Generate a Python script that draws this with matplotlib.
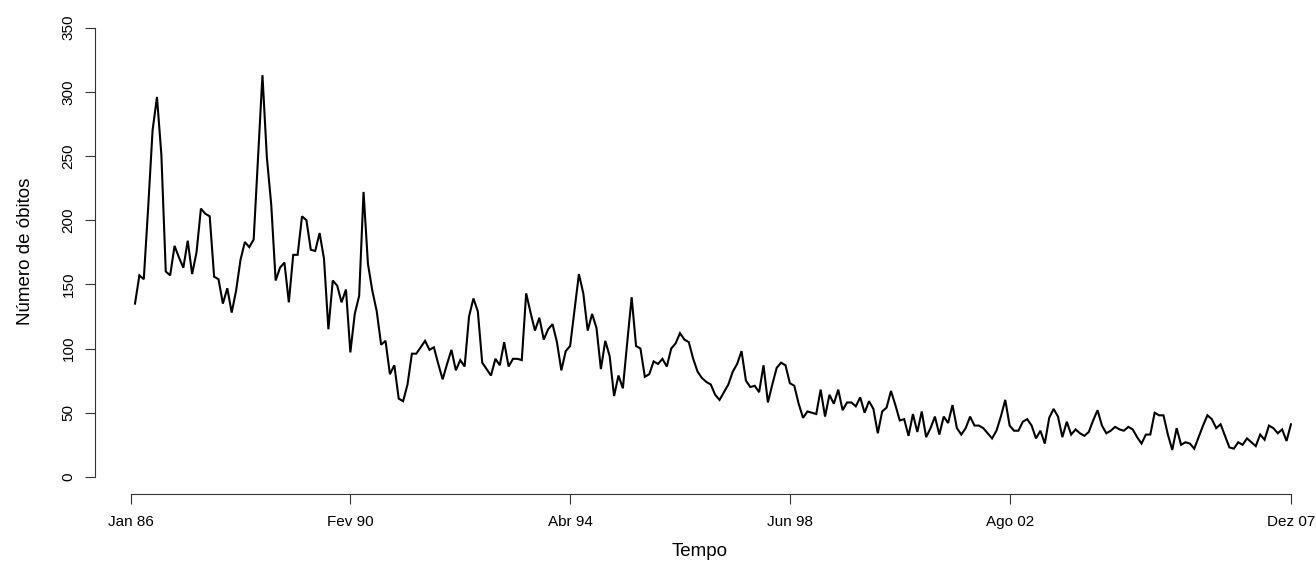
import numpy as np
import matplotlib.pyplot as plt

plt.rcParams['font.family'] = ['Liberation Sans', 'DejaVu Sans']

# monthly deaths, Jan 1986 - Dez 2007
obitos = [
    135, 157, 154, 210, 270, 296, 251, 160, 157, 180,
    171, 163, 184, 158, 175, 209, 205, 203, 156, 154,
    135, 147, 128, 145, 169, 183, 179, 185, 249, 313,
    249, 212, 153, 163, 167, 136, 173, 173, 203, 200,
    177, 176, 190, 170, 115, 153, 149, 136, 146, 97,
    127, 141, 222, 166, 145, 129, 103, 106, 80, 87,
    61, 59, 72, 96, 96, 101, 106, 99, 101, 88,
    76, 88, 99, 83, 91, 86, 125, 139, 129, 89,
    84, 79, 92, 87, 105, 86, 92, 92, 91, 143,
    128, 114, 124, 107, 115, 119, 105, 83, 98, 102,
    130, 158, 143, 114, 127, 116, 84, 106, 94, 63,
    79, 69, 105, 140, 102, 100, 78, 80, 90, 88,
    92, 86, 100, 104, 112, 107, 105, 92, 82, 77,
    74, 72, 64, 60, 66, 72, 82, 88, 98, 75,
    70, 71, 66, 87, 58, 72, 85, 89, 87, 73,
    71, 57, 46, 51, 50, 49, 68, 47, 64, 57,
    68, 52, 58, 58, 55, 62, 50, 59, 53, 34,
    51, 54, 67, 56, 44, 45, 32, 49, 35, 51,
    31, 38, 47, 33, 47, 42, 56, 38, 33, 38,
    47, 40, 40, 38, 34, 30, 36, 47, 60, 40,
    36, 36, 43, 45, 40, 30, 36, 26, 46, 53,
    47, 31, 43, 33, 37, 34, 32, 35, 44, 52,
    40, 34, 36, 39, 37, 36, 39, 37, 31, 26,
    33, 33, 50, 48, 48, 33, 21, 38, 25, 27,
    26, 22, 31, 40, 48, 45, 38, 41, 32, 23,
    22, 27, 25, 30, 27, 24, 33, 29, 40, 38,
    34, 37, 28, 41,
]
tick_pos = [-1, 49, 99, 149, 199, 263]
tick_lab = ['Jan 86', 'Fev 90', 'Abr 94', 'Jun 98', 'Ago 02', 'Dez 07']
y_ticks = [0, 50, 100, 150, 200, 250, 300, 350]

t = np.arange(len(obitos))

W, H = 1316, 570
fig = plt.figure(figsize=(W / 100, H / 100), dpi=100)
ax = fig.add_axes([95 / W, 76 / H, 1210 / W, 485 / H])

ax.plot(t, obitos, color='black', lw=1.5, solid_joinstyle='miter')

ax.set_xlim(-9.1, 266.2)
ax.set_ylim(-13.3, 364.5)

for s in ['top', 'right']:
    ax.spines[s].set_visible(False)
ax.spines['left'].set_bounds(0, 350)
ax.spines['bottom'].set_bounds(tick_pos[0], tick_pos[-1])
for s in ['left', 'bottom']:
    ax.spines[s].set_color('#333333')
    ax.spines[s].set_linewidth(0.8)

ax.set_xticks(tick_pos)
ax.set_xticklabels(tick_lab)
ax.set_yticks(y_ticks)
ax.set_yticklabels([str(v) for v in y_ticks], rotation=90, va='center')
ax.tick_params(axis='both', length=7, width=0.8, color='#333333', labelsize=11)
ax.tick_params(axis='x', pad=8)
ax.tick_params(axis='y', pad=7)

ax.set_xlabel('Tempo', fontsize=13.5, labelpad=10)
ax.set_ylabel('Número de óbitos', fontsize=13.5, labelpad=20)

fig.savefig('out.png', dpi=100)
